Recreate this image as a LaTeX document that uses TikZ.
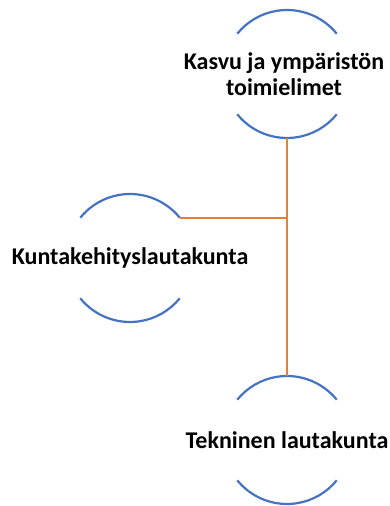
\documentclass[tikz,border=0pt]{standalone}
\usepackage{fontspec}
\setmainfont{Carlito}
\definecolor{arcblue}{HTML}{4472C4}
\definecolor{linkorange}{HTML}{ED7D31}
\begin{document}
\begin{tikzpicture}[x=1pt,y=1pt,
  unit/.style={circle,draw=none,minimum size=128pt,inner sep=0pt,outer sep=0pt},
  caption/.style={font=\fontsize{24}{25.5}\selectfont\bfseries,align=center,inner sep=0pt},
  halfarc/.style={draw=arcblue,line width=2.2pt},
  link/.style={draw=linkorange,line width=2.2pt}]
\useasboundingbox (0,0) rectangle (390,506);
\node[unit] (top) at (287,432) {};
\node[unit] (mid) at (130,248) {};
\node[unit] (bot) at (287,66) {};
\foreach \n in {top,mid,bot}{
  \path[halfarc] (\n.39) arc[start angle=39,end angle=141,radius=64pt];
  \path[halfarc] (\n.-141) arc[start angle=-141,end angle=-39,radius=64pt];
}
\node[caption] (toptext) at ([xshift=-3pt]top.center) {Kasvu ja ympäristön\\toimielimet};
\node[caption] (midtext) at (mid.center) {Kuntakehityslautakunta};
\node[caption] (bottext) at (bot.center) {Tekninen lautakunta};
\path[link] (top.south) -- (bot.north);
\path[link] (mid.39) -- (mid.39 -| top.south);
\end{tikzpicture}
\end{document}
